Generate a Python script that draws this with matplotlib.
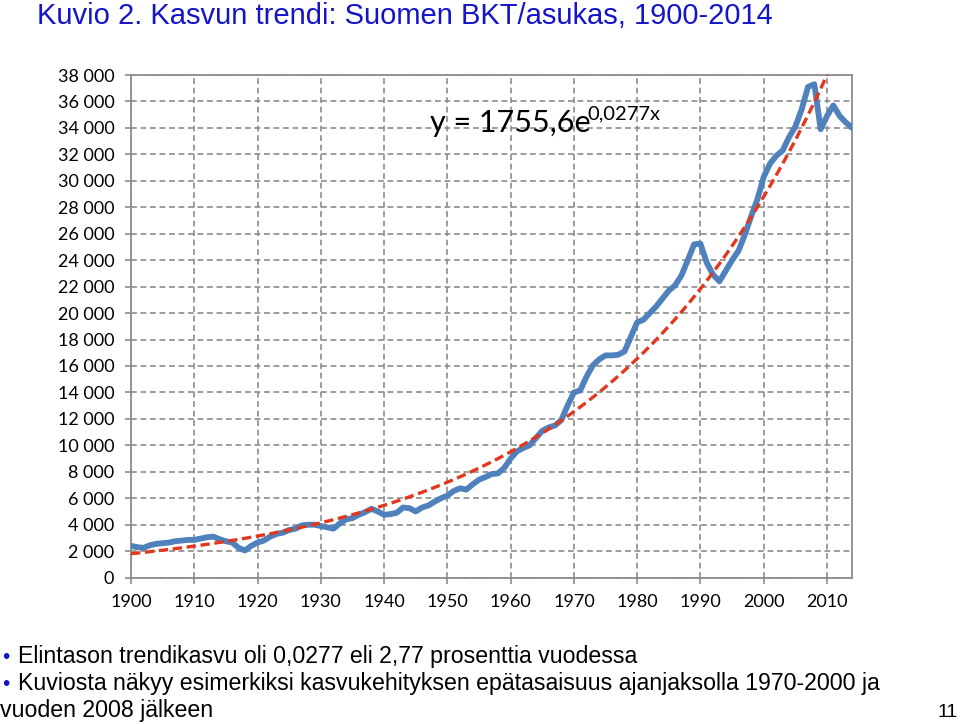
import numpy as np
import matplotlib.pyplot as plt
from matplotlib.ticker import FuncFormatter

# Suomen BKT/asukas 1900-2014 (luettu kuvasta)
years = np.arange(1900, 2015)
gdp = [
    2400, 2300, 2250, 2450, 2550, 2600, 2650, 2750, 2800, 2850,
    2850, 2950, 3050, 3100, 2900, 2750, 2650, 2250, 2050, 2400,
    2650, 2800, 3100, 3300, 3400, 3600, 3700, 3950, 4000, 4000,
    3900, 3800, 3700, 4100, 4400, 4500, 4750, 4950, 5200, 5000,
    4750, 4800, 4900, 5300, 5250, 5000, 5300, 5450, 5750, 6000,
    6200, 6550, 6750, 6650, 7050, 7400, 7600, 7830, 7880, 8300,
    9000, 9550, 9800, 10000, 10550, 11100, 11350, 11500, 11900, 13000,
    14000, 14150, 15200, 16050, 16500, 16800, 16800, 16850, 17100, 18200,
    19300, 19500, 20000, 20500, 21100, 21700, 22100, 22850, 24000, 25200,
    25250, 23800, 22900, 22400, 23200, 24000, 24700, 25900, 27300, 28600,
    30300, 31300, 31900, 32300, 33300, 34100, 35400, 37100, 37300, 33900,
    34900, 35700, 34900, 34400, 34000,
]

# Excelin eksponentiaalinen trendi: y = a*e^(b*x), x = 1..115
trend_a = 1755.6
trend_b = 0.0277
trend = trend_a * np.exp(trend_b * (years - 1899))

x_ticks = np.arange(1900, 2011, 10)
y_ticks = np.arange(0, 38001, 2000)

title = "Kuvio 2. Kasvun trendi: Suomen BKT/asukas, 1900-2014"
bullets = [
    "Elintason trendikasvu oli 0,0277 eli 2,77 prosenttia vuodessa",
    "Kuviosta näkyy esimerkiksi kasvukehityksen epätasaisuus ajanjaksolla 1970-2000 ja",
]
last_line = "vuoden 2008 jälkeen"

grid_col = '#8c8c8c'
blue = '#4f81bd'
red = '#e2381e'
title_col = '#1414c8'

W, H = 960, 724
fig = plt.figure(figsize=(W / 100, H / 100), dpi=100)
ax = fig.add_axes([131 / W, 1 - 577.6 / H, (852.3 - 131) / W, (577.6 - 75) / H])

ax.plot(years, gdp, color=blue, lw=4.2, solid_joinstyle='round', zorder=3)
ax.plot(years, trend, color=red, lw=2.4, dashes=(2.8, 1.4), zorder=4)

ax.set_xlim(1900, 2014)
ax.set_ylim(0, 38000)
ax.set_xticks(x_ticks)
ax.set_yticks(y_ticks)
ax.yaxis.set_major_formatter(FuncFormatter(lambda v, p: f"{int(v):,}".replace(',', ' ')))

ax.grid(True, color=grid_col, lw=1.2, linestyle=(0, (3.5, 2.2)))
ax.set_axisbelow(True)
for s in ax.spines.values():
    s.set_color(grid_col)
    s.set_linewidth(1.3)
ax.tick_params(axis='both', colors=grid_col, length=4.5, width=1.2, labelcolor='black',
               labelsize=13)
ax.tick_params(axis='y', pad=7.5)
ax.tick_params(axis='x', pad=7)
for lab in ax.get_xticklabels() + ax.get_yticklabels():
    lab.set_family('Lato')

# Trendiyhtälö
fig.text(430 / W, 1 - 132 / H, "y = 1755,6e", fontsize=22, family='Lato', va='baseline')
fig.text(587 / W, 1 - 119 / H, "0,0277x", fontsize=14.5, family='Lato', va='baseline')

# Otsikko
fig.text(37 / W, 1 - 24 / H, title, fontsize=21, family='Liberation Sans',
         color=title_col, va='baseline')

# Luettelo alareunassa
for i, t in enumerate(bullets):
    yb = 1 - (663 + 27 * i) / H
    fig.text(2 / W, yb, "\u2022", fontsize=15, family='Liberation Sans',
             color=title_col, va='baseline')
    fig.text(18 / W, yb, t, fontsize=16.7, family='Liberation Sans', va='baseline')
fig.text(0 / W, 1 - 717 / H, last_line, fontsize=16.7, family='Liberation Sans', va='baseline')
fig.text(958 / W, 1 - 717 / H, "11", fontsize=14, family='Liberation Sans',
         va='baseline', ha='right')

fig.savefig('out.png', dpi=100, facecolor='white')
